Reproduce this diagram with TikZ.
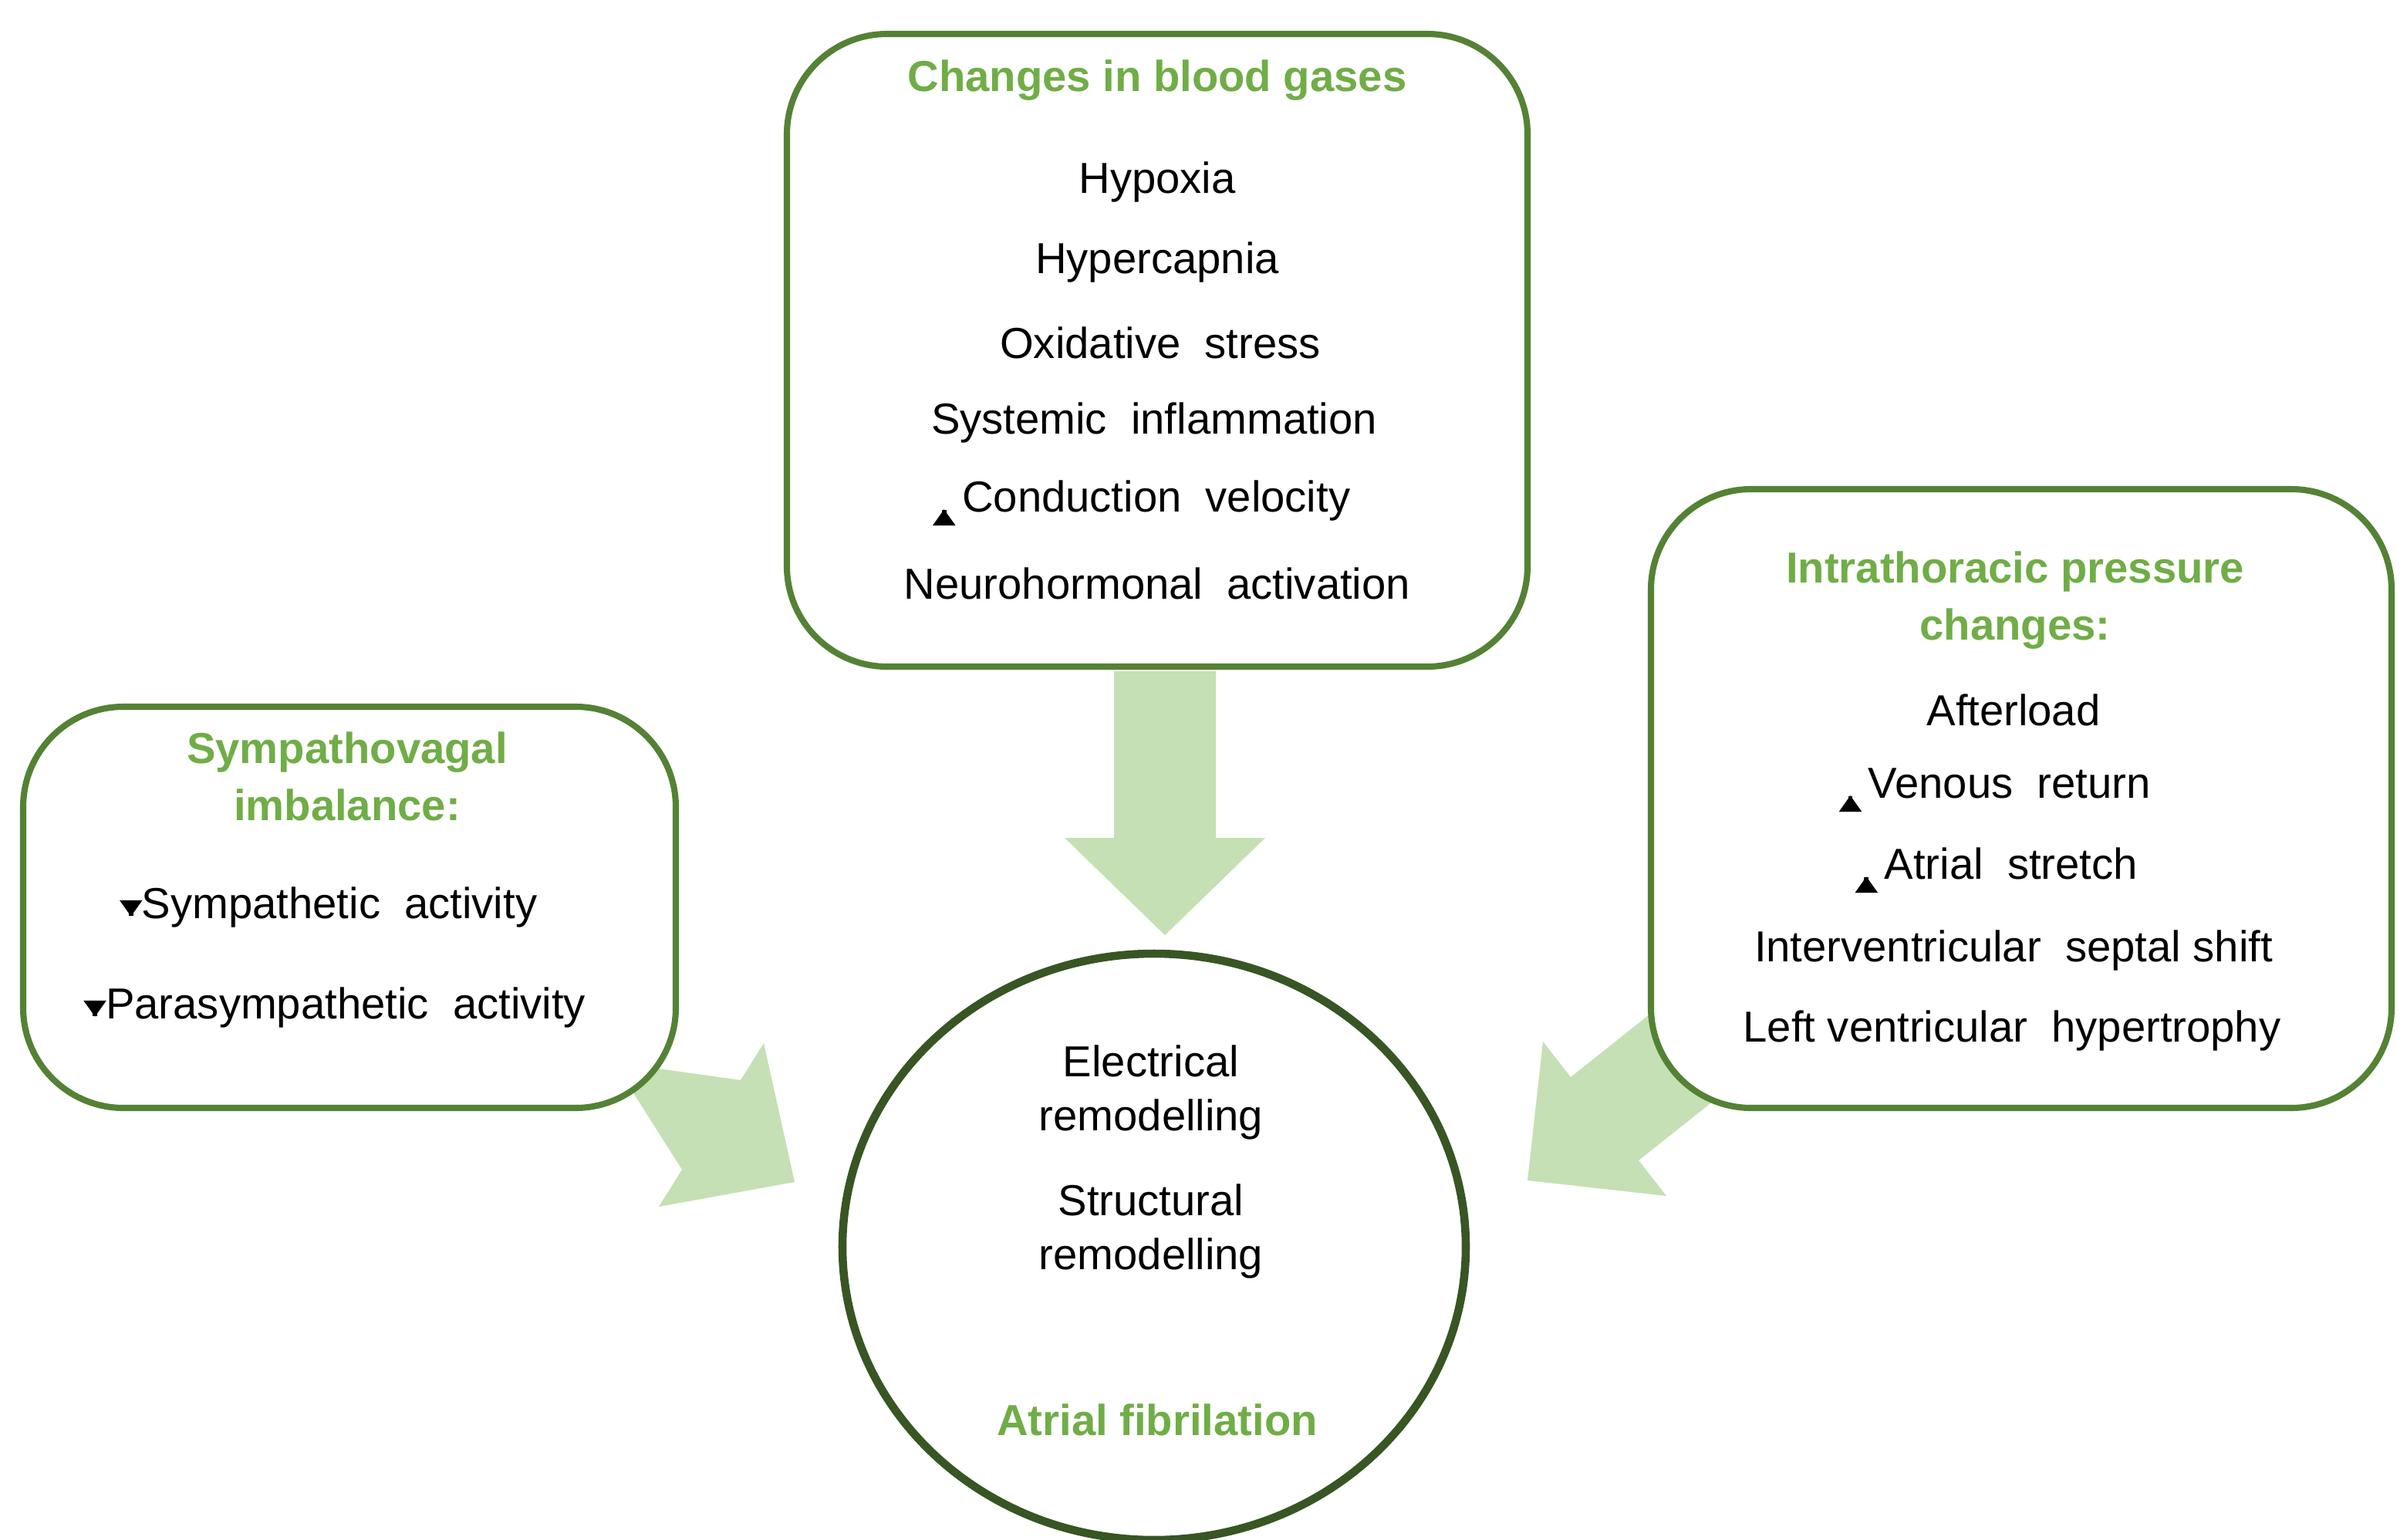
\documentclass[tikz,border=0pt]{standalone}
\usepackage{fontspec}
\setmainfont{Liberation Sans}
\usetikzlibrary{arrows.meta}
\definecolor{boxg}{HTML}{548235}
\definecolor{headg}{HTML}{70AD47}
\definecolor{arrg}{HTML}{C5E0B4}
\definecolor{circg}{HTML}{375623}
\newcommand{\dn}{\tikz[baseline=-1pt]\draw[line width=1.6pt,-{Triangle[length=6pt,width=8pt]}] (0,0.42)--(0,-0.05);\,}
\newcommand{\up}{\tikz[baseline=-1pt]\draw[line width=1.6pt,-{Triangle[length=6pt,width=8pt]}] (0,-0.05)--(0,0.42);}
\begin{document}
\begin{tikzpicture}[x=0.02cm,y=-0.02cm,
 box/.style={draw=boxg,line width=2.3pt,rounded corners=1.3cm,fill=white},
 txt/.style={font=\fontsize{16}{19}\selectfont,align=center},
 head/.style={font=\fontsize{16}{21}\selectfont\bfseries,text=headg,align=center},
 arr/.style={fill=arrg,draw=none}]
\useasboundingbox (0,0) rectangle (1560,998);
% arrows
\fill[arr] (722,435)--(788,435)--(788,543)--(820,543)--(755,606)--(690,543)--(722,543)--cycle;
\fill[arr] (316,677)--(480,700)--(495,676)--(515,766)--(427,782)--(442,758)--(354,619)--cycle;
\fill[arr] (1135,605)--(1018,698)--(1000,675)--(990,765)--(1080,775)--(1062,752)--(1179,659)--cycle;
% boxes
\draw[box] (510,22) rectangle (990,432);
\draw[box] (15,458) rectangle (438,718);
\draw[box] (1070,317) rectangle (1550,718);
\draw[draw=circg,line width=3pt,fill=white] (748,808) ellipse [x radius=202,y radius=190];
% top
\node[head] (th) at (750,52) {Changes in blood gases};
\node[txt] (t1) at (750,118) {Hypoxia};
\node[txt] (t2) at (750,170) {Hypercapnia};
\node[txt] (t3) at (752,222) {Oxidative\ \ stress};
\node[txt] (t4) at (748,274) {Systemic\ \ inflammation};
\node[txt] (t5) at (740,326) {\dn Conduction\ \ velocity};
\node[txt] (t6) at (750,378) {Neurohormonal\ \ activation};
% left
\node[head] (lh) at (225,503) {Sympathovagal\\imbalance:};
\node[txt] (l1) at (213,588) {\up Sympathetic\ \ activity};
\node[txt] (l2) at (217,653) {\up Parasympathetic\ \ activity};
% right
\node[head] (rh) at (1306,389) {Intrathoracic pressure\\changes:};
\node[txt] (r1) at (1305,460) {Afterload};
\node[txt] (r2) at (1293,512) {\dn Venous\ \ return};
\node[txt] (r3) at (1294,564) {\dn Atrial\ \ stretch};
\node[txt] (r4) at (1305,616) {Interventricular\ \ septal\ shift};
\node[txt] (r5) at (1304,668) {Left\ ventricular\ \ hypertrophy};
% circle
\node[txt,font=\fontsize{16}{20}\selectfont] (c1) at (746,708) {Electrical\\remodelling};
\node[txt,font=\fontsize{16}{20}\selectfont] (c2) at (746,798) {Structural\\remodelling};
\node[head] (ch) at (750,920) {Atrial fibrilation};
\end{tikzpicture}
\end{document}
